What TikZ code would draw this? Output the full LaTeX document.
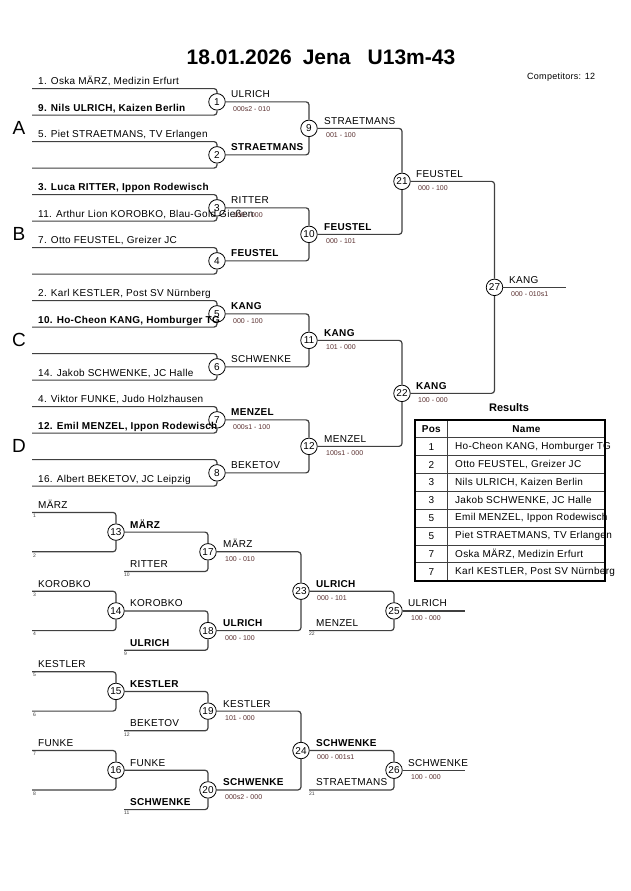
\documentclass[tikz,border=0pt]{standalone}
\usepackage{fontspec}
\setmainfont{Liberation Sans}
\newfontfamily\lsf{Liberation Sans}[LetterSpace=3]
\definecolor{lnc}{HTML}{404040}
\definecolor{scc}{HTML}{5A3030}
\tikzset{
 ln/.style={draw=lnc, line width=1.2pt, rounded corners=3pt},
 mc/.style={circle, draw=black, line width=0.8pt, fill=white, minimum size=16.5pt, inner sep=0pt, font=\fontsize{10}{10}\selectfont},
 nm/.style={anchor=base west, inner sep=0pt, font=\lsf\fontsize{10}{12}\selectfont},
 nb/.style={anchor=base west, inner sep=0pt, font=\lsf\fontsize{10}{12}\selectfont\bfseries},
 sc/.style={anchor=base west, inner sep=0pt, text=scc, font=\fontsize{7}{8}\selectfont},
 tn/.style={anchor=north west, inner sep=0pt, text=lnc, font=\fontsize{5}{6}\selectfont},
 pool/.style={inner sep=0pt, font=\fontsize{19}{20}\selectfont},
 cell/.style={inner sep=0pt, font=\lsf\fontsize{10}{12}\selectfont},
}
\begin{document}
\begin{tikzpicture}[x=1pt,y=-1pt]
\fill[white] (0,0) rectangle (630,891);
\useasboundingbox (0,0) rectangle (630,891);
% title
\node[inner sep=0pt, anchor=base, font=\fontsize{21}{24}\selectfont\bfseries] (title) at (321,65) {18.01.2026\hspace{11pt}Jena\hspace{17pt}U13m-43};
\node[inner sep=0pt, anchor=base west, font=\lsf\fontsize{9}{10}\selectfont] (comp) at (527,79) {Competitors: 12};
% pool letters
\node[pool] (pA) at (19,128.35) {A};
\node[pool] (pB) at (19,234.35) {B};
\node[pool] (pC) at (19,340.35) {C};
\node[pool] (pD) at (19,446.35) {D};
% entry coordinates
\foreach \k in {0,...,15} \coordinate (e\k) at (32,{88.6+26.5*\k});
% circles main
\foreach \i in {1,...,8} \node[mc] (m\i) at (217,{101.85+53*(\i-1)}) {\i};
\node[mc] (m9) at (309,128.35) {9};
\node[mc] (m10) at (309,234.35) {10};
\node[mc] (m11) at (309,340.35) {11};
\node[mc] (m12) at (309,446.35) {12};
\node[mc] (m21) at (402,181.35) {21};
\node[mc] (m22) at (402,393.35) {22};
\node[mc] (m27) at (494.5,287.35) {27};
\coordinate (f27) at (566,287.35);
% main lines
\draw[ln] (e0) -| (m1); \draw[ln] (e1) -| (m1);
\draw[ln] (e2) -| (m2); \draw[ln] (e3) -| (m2);
\draw[ln] (e4) -| (m3); \draw[ln] (e5) -| (m3);
\draw[ln] (e6) -| (m4); \draw[ln] (e7) -| (m4);
\draw[ln] (e8) -| (m5); \draw[ln] (e9) -| (m5);
\draw[ln] (e10) -| (m6); \draw[ln] (e11) -| (m6);
\draw[ln] (e12) -| (m7); \draw[ln] (e13) -| (m7);
\draw[ln] (e14) -| (m8); \draw[ln] (e15) -| (m8);
\draw[ln] (m1) -| (m9); \draw[ln] (m2) -| (m9);
\draw[ln] (m3) -| (m10); \draw[ln] (m4) -| (m10);
\draw[ln] (m5) -| (m11); \draw[ln] (m6) -| (m11);
\draw[ln] (m7) -| (m12); \draw[ln] (m8) -| (m12);
\draw[ln] (m9) -| (m21); \draw[ln] (m10) -| (m21);
\draw[ln] (m11) -| (m22); \draw[ln] (m12) -| (m22);
\draw[ln] (m21) -| (m27); \draw[ln] (m22) -| (m27);
\draw[ln] (m27) -- (f27);
% entry names
\node[nm] (t0) at (38,84.6) {1. Oska MÄRZ, Medizin Erfurt};
\node[nb] (t1) at (38,111.1) {9. Nils ULRICH, Kaizen Berlin};
\node[nm] (t2) at (38,137.6) {5. Piet STRAETMANS, TV Erlangen};
\node[nb] (t4) at (38,190.6) {3. Luca RITTER, Ippon Rodewisch};
\node[nm] (t5) at (38,217.1) {11. Arthur Lion KOROBKO, Blau-Gold Gießen};
\node[nm] (t6) at (38,243.6) {7. Otto FEUSTEL, Greizer JC};
\node[nm] (t8) at (38,296.6) {2. Karl KESTLER, Post SV Nürnberg};
\node[nb] (t9) at (38,323.1) {10. Ho-Cheon KANG, Homburger TG};
\node[nm] (t11) at (38,376.1) {14. Jakob SCHWENKE, JC Halle};
\node[nm] (t12) at (38,402.6) {4. Viktor FUNKE, Judo Holzhausen};
\node[nb] (t13) at (38,429.1) {12. Emil MENZEL, Ippon Rodewisch};
\node[nm] (t15) at (38,482.1) {16. Albert BEKETOV, JC Leipzig};
% winners round 1
\node[nm] (w1) at (231,97.85) {ULRICH};
\node[sc] (s1) at (233,111.3) {000s2 - 010};
\node[nb] (w2) at (231,150.85) {STRAETMANS};
\node[nm] (w3) at (231,203.85) {RITTER};
\node[sc] (s3) at (233,217.3) {100 - 000};
\node[nb] (w4) at (231,256.85) {FEUSTEL};
\node[nb] (w5) at (231,309.85) {KANG};
\node[sc] (s5) at (233,323.3) {000 - 100};
\node[nm] (w6) at (231,362.85) {SCHWENKE};
\node[nb] (w7) at (231,415.85) {MENZEL};
\node[sc] (s7) at (233,429.3) {000s1 - 100};
\node[nm] (w8) at (231,468.85) {BEKETOV};
% round 2
\node[nm] (w9) at (324,124.35) {STRAETMANS};
\node[sc] (s9) at (326,137.8) {001 - 100};
\node[nb] (w10) at (324,230.35) {FEUSTEL};
\node[sc] (s10) at (326,243.8) {000 - 101};
\node[nb] (w11) at (324,336.35) {KANG};
\node[sc] (s11) at (326,349.8) {101 - 000};
\node[nm] (w12) at (324,442.35) {MENZEL};
\node[sc] (s12) at (326,455.8) {100s1 - 000};
% round 3
\node[nm] (w21) at (416,177.35) {FEUSTEL};
\node[sc] (s21) at (418,190.8) {000 - 100};
\node[nb] (w22) at (416,389.35) {KANG};
\node[sc] (s22) at (418,402.8) {100 - 000};
\node[nm] (w27) at (509,283.35) {KANG};
\node[sc] (s27) at (511,296.8) {000 - 010s1};
% results table
\node[inner sep=0pt, font=\fontsize{11}{12}\selectfont\bfseries] (res) at (509,407.5) {Results};
\foreach \i in {1,...,8} \draw[lnc, line width=0.6pt] (415,{437.7+17.87*(\i-1)}) -- (605,{437.7+17.87*(\i-1)});
\draw[lnc, line width=0.6pt] (447.7,420) -- (447.7,580.7);
\draw[black, line width=1.6pt] (415,420) rectangle (605,580.7);
\node[cell, font=\lsf\fontsize{10}{12}\selectfont\bfseries] (hp) at (431.3,429.2) {Pos};
\node[cell, font=\lsf\fontsize{10}{12}\selectfont\bfseries] (hn) at (526.5,429.2) {Name};
\foreach \i/\p/\n in {1/1/{Ho-Cheon KANG, Homburger TG},2/2/{Otto FEUSTEL, Greizer JC},3/3/{Nils ULRICH, Kaizen Berlin},4/3/{Jakob SCHWENKE, JC Halle},5/5/{Emil MENZEL, Ippon Rodewisch},6/5/{Piet STRAETMANS, TV Erlangen},7/7/{Oska MÄRZ, Medizin Erfurt},8/7/{Karl KESTLER, Post SV Nürnberg}}{
  \node[cell] (rp\i) at (431.3,{437.7+17.87*(\i-0.5)}) {\p};
  \node[cell, anchor=west] (rn\i) at (455,{437.7+17.87*(\i-0.5)}) {\n};
}
% repechage top half
\coordinate (a0) at (32,512.4); \coordinate (a2) at (32,551.8);
\coordinate (a4) at (32,591.2); \coordinate (a6) at (32,630.6);
\coordinate (b17) at (124,571.5); \coordinate (b18) at (124,650.3);
\coordinate (b25) at (309,630.6); \coordinate (f25) at (465,610.9);
\node[mc] (m13) at (116,532.1) {13};
\node[mc] (m14) at (116,610.9) {14};
\node[mc] (m17) at (208,551.8) {17};
\node[mc] (m18) at (208,630.6) {18};
\node[mc] (m23) at (301,591.2) {23};
\node[mc] (m25) at (394,610.9) {25};
\draw[ln] (a0) -| (m13); \draw[ln] (a2) -| (m13);
\draw[ln] (a4) -| (m14); \draw[ln] (a6) -| (m14);
\draw[ln] (m13) -| (m17); \draw[ln] (b17) -| (m17);
\draw[ln] (m14) -| (m18); \draw[ln] (b18) -| (m18);
\draw[ln] (m17) -| (m23); \draw[ln] (m18) -| (m23);
\draw[ln] (m23) -| (m25); \draw[ln] (b25) -| (m25);
\draw[ln] (m25) -- (f25);
\node[nm] (ra0) at (38,508.4) {MÄRZ};
\node[tn] (ta0) at (33,514) {1};
\node[tn] (ta2) at (33,553.4) {2};
\node[nm] (ra4) at (38,587.2) {KOROBKO};
\node[tn] (ta4) at (33,592.8) {3};
\node[tn] (ta6) at (33,632.2) {4};
\node[nb] (w13) at (130,528.1) {MÄRZ};
\node[nm] (rb17) at (130,567.5) {RITTER};
\node[tn] (tb17) at (124,573.1) {10};
\node[nm] (w14) at (130,606.9) {KOROBKO};
\node[nb] (rb18) at (130,646.3) {ULRICH};
\node[tn] (tb18) at (124,651.9) {9};
\node[nm] (w17) at (223,547.8) {MÄRZ};
\node[sc] (s17) at (225,561.2) {100 - 010};
\node[nb] (w18) at (223,626.6) {ULRICH};
\node[sc] (s18) at (225,640) {000 - 100};
\node[nb] (w23) at (316,587.2) {ULRICH};
\node[sc] (s23) at (317,600.6) {000 - 101};
\node[nm] (rb25) at (316,626.6) {MENZEL};
\node[tn] (tb25) at (309,632.2) {22};
\node[nm] (w25) at (408,606.9) {ULRICH};
\node[sc] (s25) at (411,620.3) {100 - 000};
% repechage bottom half
\coordinate (c0) at (32,671.7); \coordinate (c2) at (32,711.1);
\coordinate (c4) at (32,750.5); \coordinate (c6) at (32,789.9);
\coordinate (d19) at (124,730.8); \coordinate (d20) at (124,809.6);
\coordinate (d26) at (309,789.9); \coordinate (f26) at (465,770.2);
\node[mc] (m15) at (116,691.4) {15};
\node[mc] (m16) at (116,770.2) {16};
\node[mc] (m19) at (208,711.1) {19};
\node[mc] (m20) at (208,789.9) {20};
\node[mc] (m24) at (301,750.5) {24};
\node[mc] (m26) at (394,770.2) {26};
\draw[ln] (c0) -| (m15); \draw[ln] (c2) -| (m15);
\draw[ln] (c4) -| (m16); \draw[ln] (c6) -| (m16);
\draw[ln] (m15) -| (m19); \draw[ln] (d19) -| (m19);
\draw[ln] (m16) -| (m20); \draw[ln] (d20) -| (m20);
\draw[ln] (m19) -| (m24); \draw[ln] (m20) -| (m24);
\draw[ln] (m24) -| (m26); \draw[ln] (d26) -| (m26);
\draw[ln] (m26) -- (f26);
\node[nm] (rc0) at (38,667.7) {KESTLER};
\node[tn] (tc0) at (33,673.3) {5};
\node[tn] (tc2) at (33,712.7) {6};
\node[nm] (rc4) at (38,746.5) {FUNKE};
\node[tn] (tc4) at (33,752.1) {7};
\node[tn] (tc6) at (33,791.5) {8};
\node[nb] (w15) at (130,687.4) {KESTLER};
\node[nm] (rd19) at (130,726.8) {BEKETOV};
\node[tn] (td19) at (124,732.4) {12};
\node[nm] (w16) at (130,766.2) {FUNKE};
\node[nb] (rd20) at (130,805.6) {SCHWENKE};
\node[tn] (td20) at (124,811.2) {11};
\node[nm] (w19) at (223,707.1) {KESTLER};
\node[sc] (s19) at (225,720.5) {101 - 000};
\node[nb] (w20) at (223,785.9) {SCHWENKE};
\node[sc] (s20) at (225,799.3) {000s2 - 000};
\node[nb] (w24) at (316,746.5) {SCHWENKE};
\node[sc] (s24) at (317,759.9) {000 - 001s1};
\node[nm] (rd26) at (316,785.9) {STRAETMANS};
\node[tn] (td26) at (309,791.5) {21};
\node[nm] (w26) at (408,766.2) {SCHWENKE};
\node[sc] (s26) at (411,779.6) {100 - 000};
\end{tikzpicture}
\end{document}
